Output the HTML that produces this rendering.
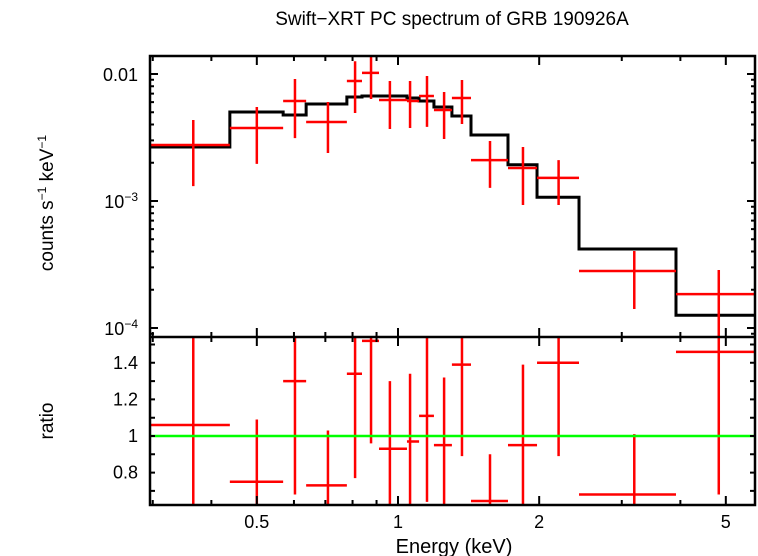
<!DOCTYPE html>
<html><head><meta charset="utf-8"><style>
body{margin:0;background:#fff;}
svg{display:block;font-family:"Liberation Sans",sans-serif;}
</style></head><body>
<svg id="c" width="758" height="556" viewBox="0 0 758 556">
<text x="452" y="25" font-size="19" text-anchor="middle">Swift−XRT PC spectrum of GRB 190926A</text>
<text transform="translate(53,203) rotate(-90)" font-size="19" text-anchor="middle">counts s<tspan font-size="12" dy="-7">−1</tspan><tspan dy="7"> keV</tspan><tspan font-size="12" dy="-7">−1</tspan></text>
<text transform="translate(53,421) rotate(-90)" font-size="19" text-anchor="middle">ratio</text>
<text x="454" y="553" font-size="20" text-anchor="middle">Energy (keV)</text>
<g id="g"></g>
</svg>
<script>
const eLo=[0.296,0.438,0.569,0.637,0.778,0.838,0.911,1.045,1.109,1.193,1.303,1.431,1.716,1.979,2.432,3.915];
const eHi=[0.438,0.569,0.637,0.778,0.838,0.911,1.045,1.109,1.193,1.303,1.431,1.716,1.979,2.432,3.915,5.77];
const eMid=[0.366,0.500,0.603,0.709,0.810,0.876,0.961,1.061,1.153,1.254,1.369,1.571,1.847,2.20,3.19,4.83];
const rate=[2.76e-3,3.76e-3,6.13e-3,4.19e-3,8.81e-3,1.02e-2,6.24e-3,6.13e-3,6.71e-3,5.21e-3,6.47e-3,2.10e-3,1.82e-3,1.52e-3,2.81e-4,1.85e-4];
const rateHi=[4.34e-3,5.50e-3,9.14e-3,6.02e-3,1.26e-2,1.41e-2,8.81e-3,8.81e-3,9.64e-3,7.21e-3,8.97e-3,2.97e-3,2.66e-3,2.10e-3,4.04e-4,2.86e-4];
const rateLo=[1.31e-3,1.96e-3,3.13e-3,2.39e-3,4.93e-3,6.36e-3,3.69e-3,3.76e-3,3.83e-3,3.08e-3,4.04e-3,1.27e-3,9.3e-4,9.3e-4,1.41e-4,8.05e-5];
const model=[2.66e-3,5.02e-3,4.75e-3,5.80e-3,6.59e-3,6.71e-3,6.71e-3,6.47e-3,6.13e-3,5.50e-3,4.67e-3,3.31e-3,1.93e-3,1.07e-3,4.19e-4,1.26e-4];
const ratio=[1.06,0.75,1.30,0.73,1.34,1.52,0.93,0.97,1.11,0.95,1.39,0.645,0.95,1.40,0.68,1.46];
const ratioHi=[1.7,1.09,1.55,1.03,1.55,1.55,1.30,1.34,1.55,1.32,1.55,0.90,1.39,1.55,1.01,1.7];
const ratioLo=[0.5,0.61,0.68,0.61,0.77,0.96,0.61,0.61,0.64,0.61,0.89,0.61,0.61,0.89,0.61,0.68];
const xTicks=[0.5,1,2,5];
const xMinor=[0.3,0.4,0.6,0.7,0.8,0.9,3,4];
const ratioTicks=[0.8,1,1.2,1.4];

const L=150,R=755,T1=56,B1=337,B2=505;
const X=e=>398+469*Math.log10(e);
const Y1=v=>74+127*(-2-Math.log10(v));
const Y2=r=>436-183*(r-1);
const g=document.getElementById('g');
const NS='http://www.w3.org/2000/svg';
function mk(t,a,p){const el=document.createElementNS(NS,t);for(const k in a)el.setAttribute(k,a[k]);(p||g).appendChild(el);return el;}
const cp=mk('clipPath',{id:'cp1'});mk('rect',{x:L,y:T1,width:R-L,height:B1-T1},cp);
const cp2=mk('clipPath',{id:'cp2'});mk('rect',{x:L,y:B1,width:R-L,height:B2-B1},cp2);
const topPanel=mk('g',{'clip-path':'url(#cp1)'});


const botPanel=mk('g',{'clip-path':'url(#cp2)'});


let d='';
for(let i=0;i<model.length;i++){const y=Y1(model[i]);d+=(i?'L':'M')+X(eLo[i])+','+y+'L'+X(eHi[i])+','+y;}
const mp=mk('path',{d:d,fill:'none',stroke:'#000','stroke-width':3},topPanel);


for(let i=0;i<rate.length;i++){
 const p=mk('path',{d:`M${X(eLo[i])},${Y1(rate[i])}H${X(eHi[i])}M${X(eMid[i])},${Y1(rateHi[i])}V${Y1(rateLo[i])}`,stroke:'#f00','stroke-width':2.5,fill:'none'},topPanel);
 
 
 const q=mk('path',{d:`M${X(eLo[i])},${Y2(ratio[i])}H${X(eHi[i])}M${X(eMid[i])},${Y2(ratioHi[i])}V${Y2(ratioLo[i])}`,stroke:'#f00','stroke-width':2.5,fill:'none'},botPanel);
 
 
}
const ul=mk('line',{x1:L,x2:R,y1:Y2(1),y2:Y2(1),stroke:'#0f0','stroke-width':2.5});


const f=mk('path',{d:`M${L},${T1}H${R}V${B2}H${L}Z M${L},${B1}H${R}`,fill:'none',stroke:'#000','stroke-width':2.5});


let t='';
xTicks.forEach(e=>{const x=X(e);[T1,B1].forEach(y=>t+=`M${x},${y}v9`);[B1,B2].forEach(y=>t+=`M${x},${y}v-9`);});
xMinor.forEach(e=>{const x=X(e);if(x<L)return;[T1,B1].forEach(y=>t+=`M${x},${y}v5`);[B1,B2].forEach(y=>t+=`M${x},${y}v-5`);});
for(let dec=-5;dec<=-2;dec++)for(let m=1;m<10;m++){const y=Y1(m*Math.pow(10,dec));if(y<T1||y>B1)continue;const len=m==1?8:4;t+=`M${L},${y}h${len}M${R},${y}h${-len}`;}
for(let r=0.7;r<1.55;r+=0.1){const y=Y2(r);t+=`M${L},${y}h5M${R},${y}h-5`;}
const tk=mk('path',{d:t,stroke:'#000','stroke-width':2,fill:'none'});


xTicks.forEach(e=>{const tx=mk('text',{x:X(e),y:528,'font-size':18,'text-anchor':'middle'});tx.textContent=String(e);
 
 });
ratioTicks.forEach(r=>{const tx=mk('text',{x:138,y:Y2(r)+6,'font-size':18,'text-anchor':'end'});tx.textContent=String(r);
 
 });
const yl=[['0.01',null,-2],['10','−3',-3],['10','−4',-4]];
yl.forEach(a=>{const y=Y1(Math.pow(10,a[2]))+7;const tx=mk('text',{x:138,y:y,'font-size':18,'text-anchor':'end'});
 if(a[1]){tx.innerHTML=a[0]+'<tspan font-size="12" dy="-7">'+a[1]+'</tspan>';}else tx.textContent=a[0];
 
 });
</script>
</body></html>
